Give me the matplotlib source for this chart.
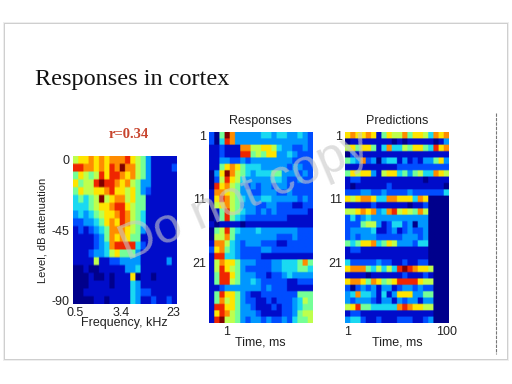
import numpy as np
import matplotlib
matplotlib.use("Agg")
import matplotlib.pyplot as plt
from matplotlib.colors import LinearSegmentedColormap
from matplotlib.patches import Rectangle

W, H = 512, 384

# cell levels, 0 = dark blue .. 10 = dark red
tuning = [
    [6, 7, 7, 8, 7, 8, 7, 8, 8, 8, 9, 7, 6, 5, 3, 1, 1, 1, 1, 1],
    [9, 9, 8, 8, 7, 8, 7, 9, 8, 10, 8, 8, 6, 5, 3, 1, 1, 1, 1, 2],
    [5, 7, 6, 5, 6, 9, 7, 9, 9, 8, 7, 8, 6, 5, 3, 1, 1, 1, 1, 1],
    [7, 5, 6, 6, 9, 10, 9, 9, 8, 7, 8, 6, 5, 3, 3, 1, 1, 1, 1, 1],
    [5, 7, 6, 6, 7, 7, 8, 9, 7, 7, 6, 7, 5, 3, 2, 1, 1, 1, 1, 1],
    [4, 5, 4, 5, 6, 10, 6, 7, 8, 8, 6, 7, 5, 5, 1, 1, 1, 1, 1, 1],
    [4, 4, 4, 5, 6, 7, 7, 8, 9, 9, 7, 6, 5, 5, 1, 1, 1, 1, 1, 1],
    [3, 4, 3, 4, 5, 6, 7, 7, 8, 9, 8, 6, 5, 4, 1, 1, 1, 1, 1, 1],
    [2, 2, 3, 3, 4, 5, 7, 8, 7, 9, 8, 6, 5, 4, 1, 1, 1, 1, 1, 1],
    [1, 2, 1, 2, 3, 4, 5, 8, 8, 8, 7, 6, 5, 3, 1, 1, 1, 1, 1, 1],
    [1, 1, 1, 1, 2, 3, 5, 8, 7, 8, 7, 5, 5, 1, 1, 1, 1, 1, 1, 1],
    [1, 1, 1, 1, 2, 3, 4, 8, 9, 9, 9, 9, 4, 2, 1, 1, 1, 1, 1, 1],
    [1, 1, 1, 2, 3, 3, 4, 6, 7, 5, 5, 5, 3, 1, 1, 1, 1, 1, 1, 1],
    [1, 1, 1, 1, 6, 1, 1, 2, 2, 3, 3, 3, 3, 1, 1, 1, 1, 1, 3, 1],
    [0, 0, 1, 0, 0, 1, 1, 1, 1, 1, 3, 3, 4, 1, 1, 1, 1, 1, 1, 1],
    [0, 0, 0, 1, 0, 0, 1, 0, 1, 1, 1, 7, 0, 1, 1, 0, 1, 1, 1, 1],
    [0, 0, 0, 1, 1, 1, 1, 0, 1, 1, 1, 4, 3, 1, 1, 1, 1, 1, 1, 1],
    [0, 0, 1, 1, 1, 1, 1, 1, 1, 1, 1, 4, 3, 2, 2, 1, 1, 1, 1, 1],
    [0, 0, 0, 0, 1, 1, 0, 1, 1, 1, 1, 4, 3, 1, 1, 2, 1, 1, 2, 1],
]

responses = [
    [2, 0, 5, 10, 8, 3, 3, 3, 3, 3, 4, 4, 3, 4, 4, 3, 3, 4, 3, 2],
    [2, 0, 4, 9, 8, 3, 3, 3, 3, 3, 3, 3, 3, 3, 3, 3, 3, 3, 3, 2],
    [1, 1, 2, 1, 1, 1, 8, 8, 6, 6, 7, 7, 6, 4, 3, 3, 2, 2, 3, 2],
    [1, 1, 2, 1, 1, 1, 9, 9, 5, 6, 5, 7, 7, 3, 3, 4, 3, 2, 2, 2],
    [1, 1, 3, 3, 2, 2, 3, 2, 3, 3, 3, 3, 3, 3, 3, 3, 2, 2, 2, 2],
    [1, 1, 5, 7, 8, 7, 5, 4, 4, 4, 3, 3, 3, 3, 3, 2, 3, 3, 2, 2],
    [0, 3, 7, 10, 8, 6, 5, 4, 3, 4, 4, 4, 5, 5, 3, 3, 3, 2, 3, 2],
    [0, 2, 6, 9, 7, 6, 4, 3, 3, 3, 3, 3, 4, 4, 3, 2, 2, 3, 2, 2],
    [0, 9, 7, 8, 6, 5, 3, 2, 3, 2, 3, 3, 2, 3, 3, 2, 2, 2, 2, 2],
    [1, 8, 8, 7, 6, 5, 3, 3, 2, 2, 3, 3, 3, 2, 2, 3, 2, 2, 2, 2],
    [1, 7, 9, 8, 6, 5, 4, 3, 3, 3, 4, 4, 3, 3, 3, 3, 3, 2, 3, 2],
    [0, 6, 7, 8, 6, 5, 3, 3, 3, 2, 2, 3, 3, 2, 2, 2, 1, 1, 2, 2],
    [0, 1, 5, 9, 6, 5, 4, 3, 3, 2, 3, 2, 3, 2, 2, 2, 2, 2, 2, 1],
    [0, 1, 5, 9, 5, 4, 3, 2, 2, 2, 2, 2, 2, 2, 2, 1, 1, 1, 1, 1],
    [1, 0, 1, 1, 1, 1, 0, 1, 1, 1, 1, 1, 1, 1, 1, 1, 1, 1, 1, 1],
    [0, 5, 6, 9, 5, 4, 3, 3, 3, 4, 3, 3, 3, 3, 3, 3, 3, 2, 2, 2],
    [0, 6, 6, 8, 5, 3, 3, 3, 3, 3, 3, 3, 3, 2, 2, 2, 3, 2, 2, 2],
    [1, 8, 8, 6, 4, 3, 2, 3, 3, 3, 2, 2, 2, 1, 1, 2, 2, 2, 2, 2],
    [2, 7, 8, 5, 4, 3, 2, 2, 2, 2, 3, 3, 2, 2, 2, 2, 2, 2, 2, 2],
    [1, 9, 9, 4, 4, 3, 2, 2, 2, 2, 1, 1, 1, 1, 1, 1, 1, 1, 1, 1],
    [1, 6, 8, 7, 7, 5, 3, 3, 3, 2, 2, 2, 3, 3, 4, 4, 4, 5, 8, 5],
    [1, 6, 9, 7, 6, 5, 3, 2, 2, 2, 2, 2, 3, 3, 4, 4, 4, 5, 5, 4],
    [1, 5, 9, 9, 7, 5, 3, 3, 3, 2, 2, 1, 2, 2, 3, 4, 3, 3, 3, 3],
    [1, 5, 9, 9, 6, 5, 3, 3, 4, 3, 2, 2, 2, 2, 2, 1, 1, 2, 2, 2],
    [1, 1, 2, 3, 3, 3, 3, 3, 3, 3, 2, 3, 2, 2, 2, 1, 1, 1, 1, 1],
    [1, 5, 9, 7, 7, 5, 3, 2, 1, 1, 2, 2, 2, 2, 2, 2, 2, 5, 5, 5],
    [1, 5, 8, 6, 7, 5, 3, 2, 2, 1, 1, 2, 1, 2, 2, 2, 3, 4, 6, 5],
    [1, 9, 9, 7, 7, 5, 3, 3, 2, 1, 1, 1, 2, 1, 2, 2, 3, 4, 5, 5],
    [1, 7, 9, 8, 6, 5, 3, 3, 3, 2, 1, 1, 1, 1, 2, 2, 3, 5, 6, 6],
    [1, 9, 10, 6, 6, 5, 3, 2, 3, 3, 2, 3, 2, 2, 3, 2, 4, 5, 5, 6],
]

predictions = [
    [7, 8, 7, 7, 8, 7, 1, 5, 7, 6, 6, 8, 5, 7, 7, 6, 4, 8, 7, 8],
    [0, 1, 1, 1, 1, 1, 1, 1, 1, 0, 1, 0, 1, 1, 1, 1, 1, 0, 1, 3],
    [6, 7, 5, 7, 7, 5, 1, 4, 8, 4, 4, 6, 5, 7, 7, 5, 4, 9, 7, 8],
    [0, 2, 1, 1, 1, 1, 1, 1, 1, 1, 1, 1, 1, 1, 1, 1, 1, 1, 1, 1],
    [5, 4, 3, 8, 2, 3, 0, 3, 4, 4, 1, 3, 1, 2, 1, 3, 3, 5, 7, 3],
    [1, 1, 1, 1, 1, 1, 1, 1, 1, 1, 2, 2, 2, 2, 2, 2, 2, 2, 2, 2],
    [5, 7, 6, 7, 7, 3, 1, 6, 7, 7, 4, 5, 3, 5, 6, 4, 4, 8, 7, 6],
    [1, 2, 2, 1, 1, 1, 1, 1, 1, 1, 1, 1, 1, 1, 1, 0, 1, 1, 1, 1],
    [1, 0, 1, 1, 1, 1, 1, 1, 2, 1, 1, 1, 1, 1, 1, 1, 1, 1, 1, 0],
    [2, 2, 2, 3, 3, 2, 2, 3, 2, 2, 2, 2, 3, 2, 2, 2, 2, 2, 2, 4],
    [7, 6, 7, 8, 8, 7, 4, 4, 8, 8, 7, 7, 7, 4, 8, 7, 0, 0, 0, 0],
    [1, 1, 1, 1, 1, 2, 1, 1, 1, 1, 1, 1, 0, 1, 1, 2, 0, 0, 0, 0],
    [6, 6, 7, 8, 7, 8, 3, 4, 8, 9, 6, 7, 6, 5, 8, 6, 0, 0, 0, 0],
    [2, 4, 2, 3, 4, 3, 3, 3, 3, 3, 3, 3, 3, 3, 3, 3, 0, 0, 0, 0],
    [2, 2, 2, 5, 6, 6, 3, 1, 2, 4, 4, 2, 3, 0, 3, 3, 0, 0, 0, 0],
    [2, 3, 3, 3, 3, 4, 1, 1, 2, 3, 1, 2, 3, 2, 2, 3, 0, 0, 0, 0],
    [2, 3, 2, 3, 3, 3, 2, 2, 2, 2, 2, 3, 3, 3, 2, 3, 0, 0, 0, 0],
    [5, 4, 5, 7, 7, 8, 4, 5, 7, 6, 3, 3, 3, 2, 4, 4, 0, 0, 0, 0],
    [1, 2, 2, 1, 1, 1, 1, 1, 1, 1, 1, 1, 1, 1, 1, 1, 0, 0, 0, 0],
    [1, 1, 1, 1, 1, 1, 1, 1, 1, 1, 1, 1, 1, 1, 1, 1, 0, 0, 0, 0],
    [4, 2, 2, 2, 2, 2, 3, 2, 2, 1, 1, 2, 1, 1, 2, 2, 0, 0, 0, 0],
    [7, 8, 8, 8, 5, 4, 6, 4, 6, 4, 9, 10, 9, 8, 7, 7, 6, 0, 0, 0],
    [1, 1, 1, 1, 0, 1, 1, 1, 1, 1, 1, 2, 1, 1, 1, 2, 1, 0, 0, 0],
    [7, 8, 8, 7, 5, 8, 7, 5, 6, 7, 9, 9, 9, 9, 7, 6, 6, 0, 0, 0],
    [2, 0, 2, 3, 2, 3, 1, 3, 3, 1, 2, 3, 3, 2, 3, 2, 2, 0, 0, 0],
    [3, 4, 8, 4, 4, 3, 1, 4, 1, 3, 7, 7, 7, 3, 3, 5, 5, 0, 0, 0],
    [3, 2, 3, 3, 3, 2, 1, 3, 3, 1, 3, 2, 3, 3, 1, 3, 3, 0, 0, 0],
    [6, 7, 9, 5, 5, 4, 4, 4, 4, 4, 8, 9, 8, 7, 7, 6, 6, 0, 0, 0],
    [1, 2, 2, 1, 1, 1, 1, 1, 1, 1, 1, 1, 1, 1, 1, 1, 1, 0, 0, 0],
    [3, 4, 4, 2, 1, 1, 2, 1, 1, 1, 2, 2, 2, 1, 1, 2, 3, 0, 0, 0],
]

y_ticks_left = ["0", "-45", "-90"]
x_ticks_left = ["0.5", "3.4", "23"]
y_ticks_raster = ["1", "11", "21"]

plt.rcParams["font.family"] = ["Liberation Sans", "DejaVu Sans"]
TEXT = "#222222"

# jet as it looks in the compressed picture, one colour per level
level_colors = ["#00008c", "#000dcc", "#004dff", "#0099ff", "#1ad9f2", "#73ff99",
                "#bfff4d", "#ffe600", "#ff8c00", "#f22600", "#800000"]
soft_jet = LinearSegmentedColormap.from_list("soft_jet", level_colors)


def px_axes(fig, x0, y0, x1, y1):
    return fig.add_axes([x0 / W, 1 - y1 / H, (x1 - x0) / W, (y1 - y0) / H])


def draw_map(ax, values):
    grid = np.array(values)
    rows, cols = grid.shape
    # repeat the cells so bilinear only softens their edges, like the jpeg does
    fine = np.repeat(np.repeat(grid, 4, axis=0), 4, axis=1)
    ax.imshow(fine, cmap=soft_jet, vmin=0, vmax=10, aspect="auto", interpolation="bilinear",
              extent=(-0.5, cols - 0.5, rows - 0.5, -0.5))
    ax.tick_params(length=0, labelsize=9, colors=TEXT, pad=2)
    for side in ax.spines.values():
        side.set_visible(False)


fig = plt.figure(figsize=(W / 100, H / 100), dpi=100, facecolor="white")

# slide edge with a soft shadow
bg = fig.add_axes([0, 0, 1, 1])
bg.set_xlim(0, W)
bg.set_ylim(H, 0)
bg.axis("off")
for grow, shade in [(2, "#eeeeee"), (1, "#cfcfcf")]:
    bg.add_patch(Rectangle((5 - grow, 24 - grow), 502 + 2 * grow, 335 + 2 * grow,
                           fc=shade, ec="none"))
bg.add_patch(Rectangle((5, 24), 502, 335, fc="white", ec="none"))
bg.plot([495.5, 495.5], [113, 354], color="#777777", lw=0.8, ls=(0, (3, 1)))
bg.text(35, 79, "Responses in cortex", family="Liberation Serif", fontsize=17.5,
        color="#111111", va="center", ha="left")
bg.text(129, 134, "r=0.34", family="Liberation Serif", fontweight="bold", fontsize=10.5,
        color="#c8452e", va="center", ha="center")

# tuning map
ax1 = px_axes(fig, 72.5, 156, 176, 304)
draw_map(ax1, tuning)
ax1.set_xticks([-0.02, 9.0, 19.0], x_ticks_left)
ax1.set_yticks([-0.1, 9.1, 18.0], y_ticks_left)
ax1.set_xlabel("Frequency, kHz", fontsize=9, color=TEXT, labelpad=-1)
ax1.set_ylabel("Level, dB attenuation", fontsize=8, color=TEXT, labelpad=3)

# measured responses
ax2 = px_axes(fig, 208.7, 132, 312.7, 323)
draw_map(ax2, responses)
ax2.set_xticks([2.9], ["1"])
ax2.set_yticks([0, 10, 20], y_ticks_raster)
ax2.set_xlabel("Time, ms", fontsize=9, color=TEXT, labelpad=-1)
ax2.set_title("Responses", fontsize=9, color=TEXT, pad=6)

# model predictions
ax3 = px_axes(fig, 345.3, 132, 449, 323)
draw_map(ax3, predictions)
ax3.set_xticks([0, 19], ["1", "100"])
ax3.set_yticks([0, 10, 20], y_ticks_raster)
ax3.set_xlabel("Time, ms", fontsize=9, color=TEXT, labelpad=-1)
ax3.set_title("Predictions", fontsize=9, color=TEXT, pad=6)

# watermark over everything
fig.text(245 / W, 1 - 197 / H, "Do not copy", fontsize=36, color="#c8c8c8", alpha=0.6,
         rotation=23, ha="center", va="center", rotation_mode="anchor", zorder=20)

fig.savefig("out.png", dpi=100)
